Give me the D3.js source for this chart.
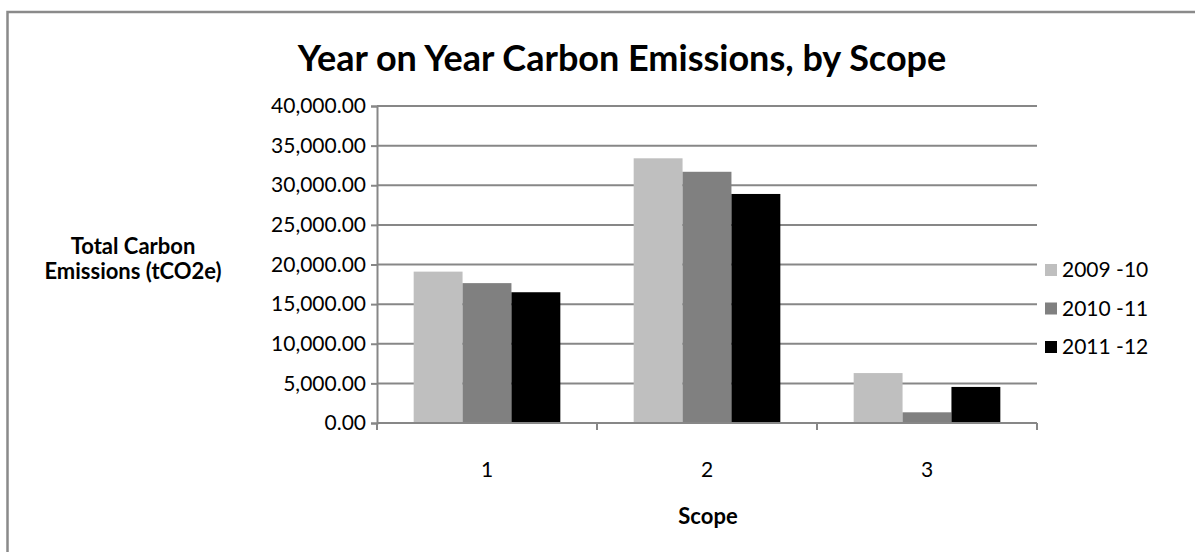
<!DOCTYPE html>
<html>
<head>
<meta charset="utf-8">
<script src="https://cdn.jsdelivr.net/npm/d3@7"></script>
<style>
  html, body { margin: 0; padding: 0; background: #fff; }
  svg { display: block; font-family: Lato, "Open Sans", sans-serif; }
</style>
</head>
<body>
<svg id="chart" width="1195" height="552"></svg>
<script>
// Carbon emissions (tCO2e) by scope, per financial year
const scopes = ["1", "2", "3"];
const years = ["2009 -10", "2010 -11", "2011 -12"];
const values2009_10 = [19100, 33400, 6300];
const values2010_11 = [17650, 31700, 1350];
const values2011_12 = [16500, 28900, 4550];
const yTicks = [0, 5000, 10000, 15000, 20000, 25000, 30000, 35000, 40000];
const seriesColors = ["#bfbfbf", "#808080", "#000000"];

const series = [values2009_10, values2010_11, values2011_12];

const svg = d3.select("#chart");
const W = 1195, H = 552;
const plot = { left: 377, right: 1037, top: 106, bottom: 423 };
const gridColor = "#878787";

// outer chart frame (runs off the right and bottom edges)
svg.append("rect")
  .attr("x", 7.5).attr("y", 12)
  .attr("width", W + 20).attr("height", H + 20)
  .attr("fill", "#fff")
  .attr("stroke", "#8a8a8a")
  .attr("stroke-width", 2.5);

const x0 = d3.scaleBand().domain(scopes).range([plot.left, plot.right]).paddingInner(0).paddingOuter(0);
const groupW = x0.bandwidth();
const barW = groupW / 4.5;
const x1 = d3.scaleBand().domain(d3.range(years.length))
  .range([groupW / 2 - 1.5 * barW, groupW / 2 + 1.5 * barW]);
const y = d3.scaleLinear().domain([0, 40000]).range([plot.bottom, plot.top]);

// horizontal gridlines
svg.append("g").selectAll("line").data(yTicks.filter(d => d > 0)).join("line")
  .attr("x1", plot.left).attr("x2", plot.right)
  .attr("y1", d => y(d)).attr("y2", d => y(d))
  .attr("stroke", gridColor).attr("stroke-width", 2);

// bars
const groups = svg.append("g").selectAll("g").data(scopes).join("g")
  .attr("transform", d => `translate(${x0(d)},0)`);
groups.selectAll("rect")
  .data((s, i) => series.map((vals, k) => ({ k, v: vals[i] })))
  .join("rect")
  .attr("x", d => x1(d.k))
  .attr("width", x1.bandwidth())
  .attr("y", d => y(d.v))
  .attr("height", d => y(0) - y(d.v))
  .attr("fill", d => seriesColors[d.k]);

// y axis
const yAxis = d3.axisLeft(y).tickValues(yTicks).tickSize(6).tickPadding(5)
  .tickFormat(d3.format(",.2f"));
const gy = svg.append("g").attr("transform", `translate(${plot.left},0)`).call(yAxis);
gy.select(".domain").attr("stroke", gridColor).attr("stroke-width", 2);
gy.selectAll(".tick line").attr("stroke", gridColor).attr("stroke-width", 2);
gy.selectAll(".tick text").attr("font-size", 21).attr("fill", "#000")
  .attr("font-family", "Lato, sans-serif");

// x axis line with boundary ticks
svg.append("line")
  .attr("x1", plot.left).attr("x2", plot.right)
  .attr("y1", y(0)).attr("y2", y(0))
  .attr("stroke", gridColor).attr("stroke-width", 2);
const boundaries = scopes.map(s => x0(s)).concat([plot.right]);
svg.append("g").selectAll("line").data(boundaries).join("line")
  .attr("x1", d => d).attr("x2", d => d)
  .attr("y1", y(0)).attr("y2", y(0) + 7)
  .attr("stroke", gridColor).attr("stroke-width", 2);
svg.append("g").selectAll("text").data(scopes).join("text")
  .attr("x", d => x0(d) + groupW / 2)
  .attr("y", 477)
  .attr("text-anchor", "middle")
  .attr("font-size", 21)
  .text(d => d);

// titles
svg.append("text")
  .attr("x", 622).attr("y", 71)
  .attr("text-anchor", "middle")
  .attr("font-size", 36).attr("font-weight", "bold")
  .text("Year on Year Carbon Emissions, by Scope");

svg.append("text")
  .attr("x", 708).attr("y", 524)
  .attr("text-anchor", "middle")
  .attr("font-size", 22).attr("font-weight", "bold")
  .text("Scope");

const yTitle = svg.append("text")
  .attr("text-anchor", "middle")
  .attr("font-size", 22).attr("font-weight", "bold");
yTitle.append("tspan").attr("x", 133).attr("y", 254).text("Total Carbon");
yTitle.append("tspan").attr("x", 133).attr("y", 279).text("Emissions (tCO2e)");

// legend
const legend = svg.append("g").selectAll("g").data(years).join("g")
  .attr("transform", (d, i) => `translate(1045,${264 + i * 38.5})`);
legend.append("rect")
  .attr("width", 12).attr("height", 12)
  .attr("fill", (d, i) => seriesColors[i]);
legend.append("text")
  .attr("x", 17).attr("y", 13)
  .attr("font-size", 21)
  .text(d => d);
</script>
</body>
</html>
